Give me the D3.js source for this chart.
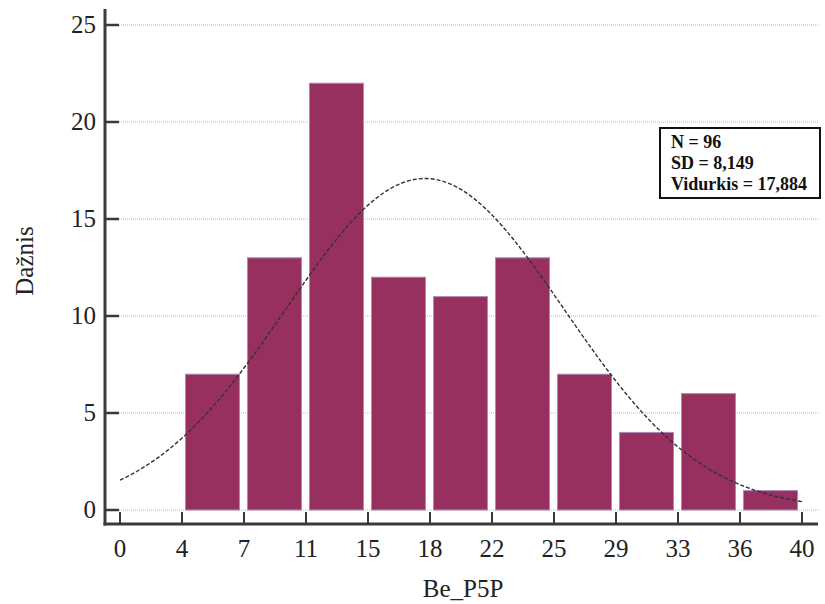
<!DOCTYPE html>
<html>
<head>
<meta charset="utf-8">
<script src="https://cdn.jsdelivr.net/npm/d3@7"></script>
<style>
  html, body { margin: 0; padding: 0; background: #fff; }
  svg { display: block; font-family: "Liberation Serif", "Times New Roman", serif; }
</style>
</head>
<body>
<div id="chart"></div>
<script>
// ── Data ──
const binEdges   = [0, 3.636, 7.273, 10.909, 14.545, 18.182, 21.818, 25.455, 29.091, 32.727, 36.364, 40];
const xTickLabels = ["0", "4", "7", "11", "15", "18", "22", "25", "29", "33", "36", "40"];
const counts     = [0, 7, 13, 22, 12, 11, 13, 7, 4, 6, 1];
const yTicks     = [0, 5, 10, 15, 20, 25];
const statLabels = ["N = 96", "SD = 8,149", "Vidurkis = 17,884"];
const statN    = 96;
const statSD   = 8.149;
const statMean = 17.884;

const W = 825, H = 604;
const AXIS_X = 105;       // y-axis line position
const AXIS_Y = 524;       // x-axis line position
const RIGHT  = 818;

const svg = d3.select("#chart").append("svg")
  .attr("width", W).attr("height", H);

const x = d3.scaleLinear().domain([0, 40]).range([120, 802]);
const y = d3.scaleLinear().domain([0, 25]).range([510, 25]);

// ── Gridlines ──
svg.append("g").selectAll("line")
  .data(yTicks)
  .join("line")
  .attr("x1", AXIS_X + 14).attr("x2", RIGHT)
  .attr("y1", d => y(d)).attr("y2", d => y(d))
  .attr("stroke", "#b8b8b8")
  .attr("stroke-width", 1)
  .attr("stroke-dasharray", "1 1");

// ── Bars ──
const bins = counts.map((c, i) => ({ x0: binEdges[i], x1: binEdges[i + 1], count: c }))
  .filter(b => b.count > 0);

svg.append("g").selectAll("rect")
  .data(bins)
  .join("rect")
  .attr("x", d => x(d.x0) + 3.5)
  .attr("width", d => x(d.x1) - x(d.x0) - 8)
  .attr("y", d => y(d.count))
  .attr("height", d => y(0) - y(d.count))
  .attr("fill", "#97305f")
  .attr("stroke", "#a88bbd")
  .attr("stroke-width", 1);

// ── Normal curve (from N, SD, mean) ──
const binW = binEdges[1] - binEdges[0];
const normal = v => statN * binW / (statSD * Math.sqrt(2 * Math.PI))
  * Math.exp(-0.5 * ((v - statMean) / statSD) ** 2);
const curvePts = d3.range(0, 40.01, 0.25).map(v => [v, normal(v)]);

svg.append("path")
  .datum(curvePts)
  .attr("fill", "none")
  .attr("stroke", "#333")
  .attr("stroke-width", 1.4)
  .attr("stroke-dasharray", "4 2")
  .attr("d", d3.line().x(d => x(d[0])).y(d => y(d[1])));

// ── Y axis ──
svg.append("line")
  .attr("x1", AXIS_X).attr("x2", AXIS_X)
  .attr("y1", 9).attr("y2", AXIS_Y + 1.5)
  .attr("stroke", "#3a3a3a").attr("stroke-width", 3);

const yAxisG = svg.append("g");
yAxisG.selectAll("line")
  .data(yTicks)
  .join("line")
  .attr("x1", AXIS_X).attr("x2", AXIS_X + 14)
  .attr("y1", d => y(d)).attr("y2", d => y(d))
  .attr("stroke", "#3a3a3a").attr("stroke-width", 2.5);
yAxisG.selectAll("text")
  .data(yTicks)
  .join("text")
  .attr("x", AXIS_X - 9)
  .attr("y", d => y(d) + 8)
  .attr("text-anchor", "end")
  .style("font-size", "25px")
  .style("fill", "#222")
  .text(d => d);

svg.append("text")
  .attr("transform", `translate(33,261) rotate(-90)`)
  .attr("text-anchor", "middle")
  .style("font-size", "25px")
  .style("fill", "#222")
  .text("Dažnis");

// ── X axis ──
svg.append("line")
  .attr("x1", AXIS_X - 1.5).attr("x2", RIGHT)
  .attr("y1", AXIS_Y).attr("y2", AXIS_Y)
  .attr("stroke", "#3a3a3a").attr("stroke-width", 3);

const xAxisG = svg.append("g");
xAxisG.selectAll("line")
  .data(binEdges)
  .join("line")
  .attr("x1", d => x(d)).attr("x2", d => x(d))
  .attr("y1", AXIS_Y).attr("y2", AXIS_Y - 12)
  .attr("stroke", "#3a3a3a").attr("stroke-width", 2);
xAxisG.selectAll("text")
  .data(binEdges)
  .join("text")
  .attr("x", d => x(d))
  .attr("y", 557)
  .attr("text-anchor", "middle")
  .style("font-size", "25px")
  .style("fill", "#222")
  .text((d, i) => xTickLabels[i]);

svg.append("text")
  .attr("x", 463).attr("y", 597)
  .attr("text-anchor", "middle")
  .style("font-size", "25px")
  .style("fill", "#222")
  .text("Be_P5P");

// ── Stats box ──
svg.append("rect")
  .attr("x", 660).attr("y", 128)
  .attr("width", 160).attr("height", 70)
  .attr("fill", "#fff")
  .attr("stroke", "#111").attr("stroke-width", 2);

svg.append("g").selectAll("text")
  .data(statLabels)
  .join("text")
  .attr("x", 671)
  .attr("y", (d, i) => 148 + i * 21)
  .style("font-size", "18px")
  .style("font-weight", "bold")
  .style("fill", "#111")
  .text(d => d);
</script>
</body>
</html>
